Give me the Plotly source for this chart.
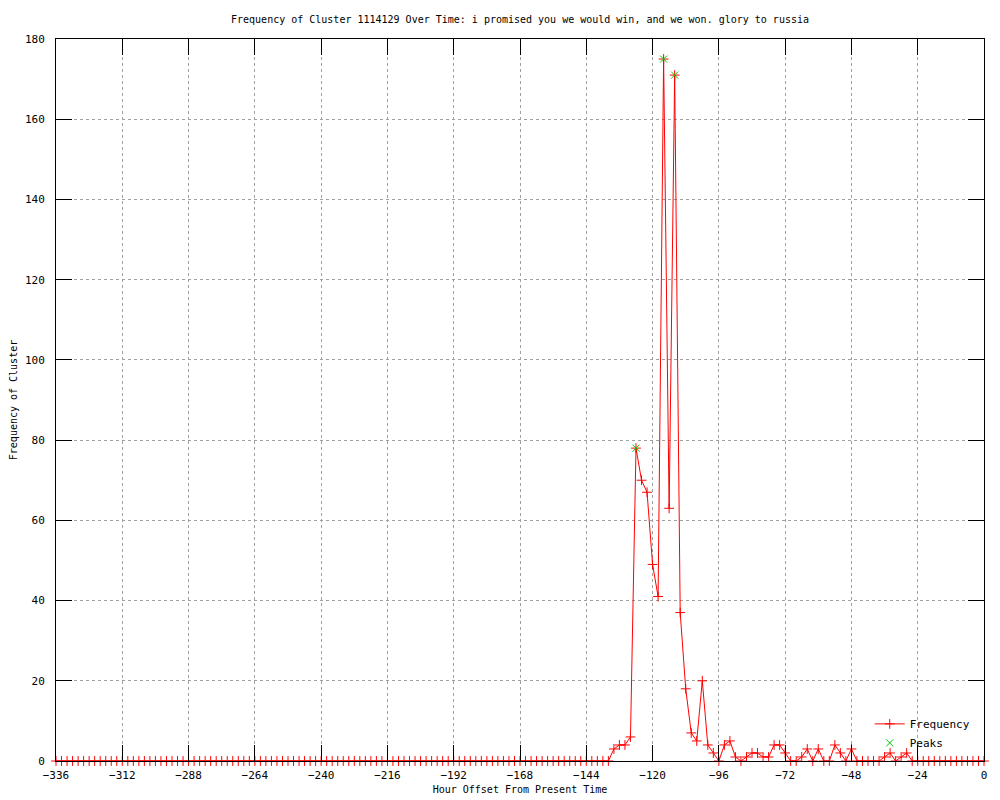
import plotly.graph_objects as go

# Hour offsets (every 2 hours from -336 to 0)
hours = list(range(-336, 1, 2))

# Frequency per 2-hour bin
frequency = [
    0, 0, 0, 0, 0, 0, 0, 0, 0, 0, 0, 0, 0, 0, 0, 0, 0, 0, 0, 0,
    0, 0, 0, 0, 0, 0, 0, 0, 0, 0, 0, 0, 0, 0, 0, 0, 0, 0, 0, 0,
    0, 0, 0, 0, 0, 0, 0, 0, 0, 0, 0, 0, 0, 0, 0, 0, 0, 0, 0, 0,
    0, 0, 0, 0, 0, 0, 0, 0, 0, 0, 0, 0, 0, 0, 0, 0, 0, 0, 0, 0,
    0, 0, 0, 0, 0, 0, 0, 0, 0, 0, 0, 0, 0, 0, 0, 0, 0, 0, 0, 0,
    0,
    # -134 .. -28
    3, 4, 4, 6, 78, 70, 67, 49, 41, 175, 63, 171, 37, 18, 7, 5, 20, 4, 2, 0,
    4, 5, 1, 0, 1, 2, 2, 1, 1, 4, 4, 2, 0, 0, 1, 3, 0, 3, 0, 0,
    4, 2, 0, 3, 0, 0, 0, 0, 0, 1, 2, 0, 1, 2,
    # -26 .. 0
    0, 0, 0, 0, 0, 0, 0, 0, 0, 0, 0, 0, 0, 0,
]

peak_hours = [-126, -116, -112]
peak_values = [78, 175, 171]

x_ticks = [-336, -312, -288, -264, -240, -216, -192, -168, -144, -120, -96, -72, -48, -24, 0]
y_ticks = [0, 20, 40, 60, 80, 100, 120, 140, 160, 180]

FONT = "DejaVu Sans Mono"

fig = go.Figure()
fig.add_trace(go.Scatter(
    x=hours, y=frequency, mode="lines+markers", name="Frequency",
    line=dict(color="#ff0000", width=1),
    marker=dict(symbol="cross-thin", size=7, line=dict(color="#ff0000", width=1)),
    cliponaxis=False,
))
fig.add_trace(go.Scatter(
    x=peak_hours, y=peak_values, mode="markers", name="Peaks",
    marker=dict(symbol="x-thin", size=7, line=dict(color="#00cc00", width=1)),
    cliponaxis=False,
))

axis_common = dict(
    showline=True, linecolor="black", linewidth=1, mirror="allticks",
    ticks="inside", ticklen=16, tickcolor="black", tickwidth=1,
    showgrid=True, gridcolor="#a0a0a0", griddash="dot", gridwidth=1,
    zeroline=False, tickfont=dict(family=FONT, size=11, color="black"),
)

fig.update_layout(
    width=1000, height=800,
    paper_bgcolor="white", plot_bgcolor="white",
    margin=dict(l=48, r=24, t=31, b=47),
    font=dict(family=FONT, size=11, color="black"),
    title=dict(
        text="Frequency of Cluster 1114129 Over Time: i promised you we would win, and we won. glory to russia",
        x=0.5, xref="paper", xanchor="center", y=1 - 11 / 800, yanchor="middle",
        font=dict(family=FONT, size=10, color="black"),
    ),
    xaxis=dict(
        range=[-336, 0], tickvals=x_ticks, ticklabelstandoff=4,
        title=dict(text="Hour Offset From Present Time", standoff=4,
                   font=dict(family=FONT, size=10)),
        automargin=False, **axis_common,
    ),
    yaxis=dict(
        range=[0, 180], tickvals=y_ticks, ticklabelstandoff=8,
        title=dict(text="Frequency of Cluster", standoff=8,
                   font=dict(family=FONT, size=10)),
        automargin=False, **axis_common,
    ),
    legend=dict(
        x=0.99, y=0.005, xanchor="right", yanchor="bottom",
        bgcolor="rgba(0,0,0,0)", font=dict(family=FONT, size=11),
        tracegroupgap=0, itemwidth=30,
    ),
    showlegend=True,
)

fig.write_html("out.html")
